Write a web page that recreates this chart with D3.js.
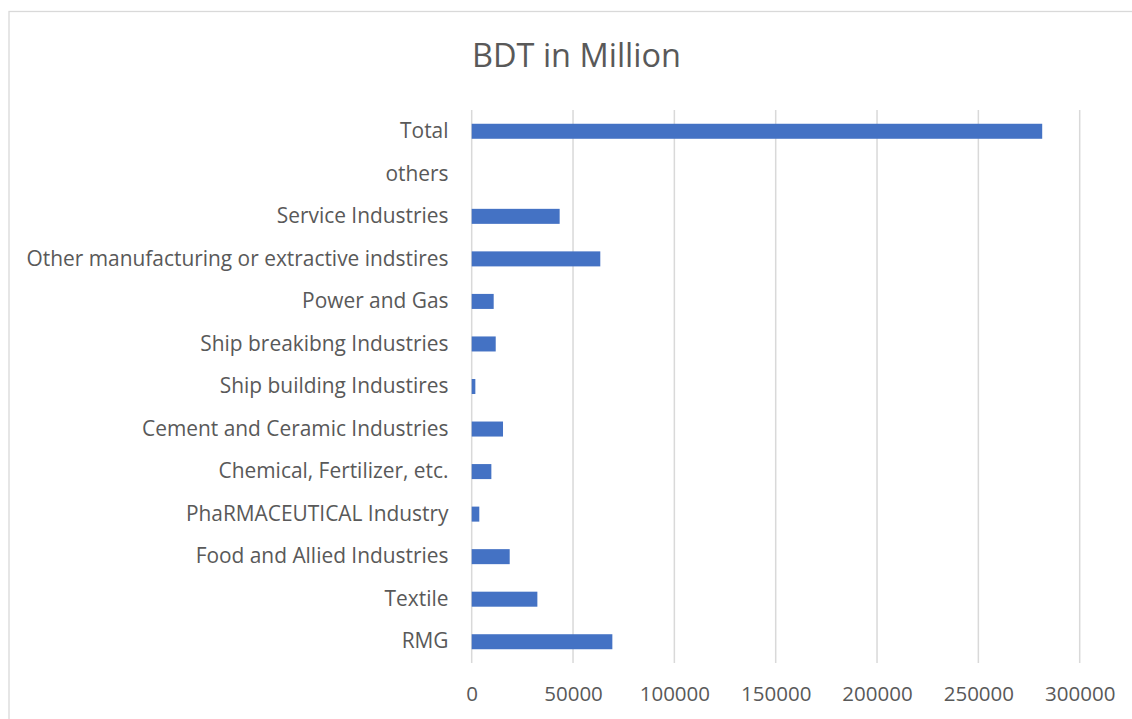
<!DOCTYPE html>
<html>
<head>
<meta charset="utf-8">
<script src="https://cdn.jsdelivr.net/npm/d3@7"></script>
<style>
  html, body { margin: 0; padding: 0; background: #fff; }
  svg { display: block; }
</style>
</head>
<body>
<svg id="chart" width="1132" height="719"></svg>
<script>
// Sector categories, listed bottom to top as shown on the axis
const categories = [
  "RMG",
  "Textile",
  "Food and Allied Industries",
  "PhaRMACEUTICAL Industry",
  "Chemical, Fertilizer, etc.",
  "Cement and Ceramic Industries",
  "Ship building Industires",
  "Ship breakibng Industries",
  "Power and Gas",
  "Other manufacturing or extractive indstires",
  "Service Industries",
  "others",
  "Total"
];
// Amounts in BDT million, same order as categories
const values = [69400, 32400, 18750, 3750, 9700, 15450, 1800, 11850, 10850, 63450, 43400, 0, 281500];
const xTicks = [0, 50000, 100000, 150000, 200000, 250000, 300000];
const title = "BDT in Million";

const svg = d3.select("#chart");
const font = "'Open Sans', 'Noto Sans', sans-serif";
const textColor = "#595959";
const gridColor = "#d9d9d9";

// chart frame
svg.append("rect")
  .attr("x", 9).attr("y", 11.5)
  .attr("width", 1200).attr("height", 800)
  .attr("fill", "none")
  .attr("stroke", gridColor)
  .attr("stroke-width", 1.3);

const plot = { left: 471.7, right: 1079.7, top: 110, bottom: 663 };

const x = d3.scaleLinear().domain([0, 300000]).range([plot.left, plot.right]);
const y = d3.scaleBand()
  .domain(categories.slice().reverse())
  .range([plot.top, plot.bottom])
  .paddingInner(0.647)
  .paddingOuter(0.3235);

// vertical gridlines
svg.append("g").selectAll("line")
  .data(xTicks)
  .join("line")
  .attr("x1", d => x(d)).attr("x2", d => x(d))
  .attr("y1", plot.top).attr("y2", plot.bottom)
  .attr("stroke", gridColor)
  .attr("stroke-width", 1.5);

// bars
svg.append("g").selectAll("rect")
  .data(categories.map((c, i) => ({ c, v: values[i] })))
  .join("rect")
  .attr("x", x(0))
  .attr("y", d => y(d.c))
  .attr("width", d => x(d.v) - x(0))
  .attr("height", y.bandwidth())
  .attr("fill", "#4472C4");

// x axis tick labels
const xAxis = d3.axisBottom(x).tickValues(xTicks).tickFormat(d3.format("d")).tickSize(0).tickPadding(0);
const gx = svg.append("g").attr("transform", `translate(0, ${plot.bottom + 23})`).call(xAxis);
gx.select(".domain").remove();
gx.selectAll("text")
  .attr("fill", textColor)
  .style("font-family", font)
  .style("font-size", "20.5px")
  .attr("dy", "0.71em");

// category labels
const yAxis = d3.axisLeft(y).tickSize(0).tickPadding(0);
const gy = svg.append("g").attr("transform", `translate(448.5, 0)`).call(yAxis);
gy.select(".domain").remove();
gy.selectAll("text")
  .attr("fill", textColor)
  .style("font-family", font)
  .style("font-size", "20.9px");

// title
svg.append("text")
  .attr("x", 576.5).attr("y", 66.5)
  .attr("text-anchor", "middle")
  .attr("fill", textColor)
  .style("font-family", font)
  .style("font-size", "32.5px")
  .text(title);
</script>
</body>
</html>
